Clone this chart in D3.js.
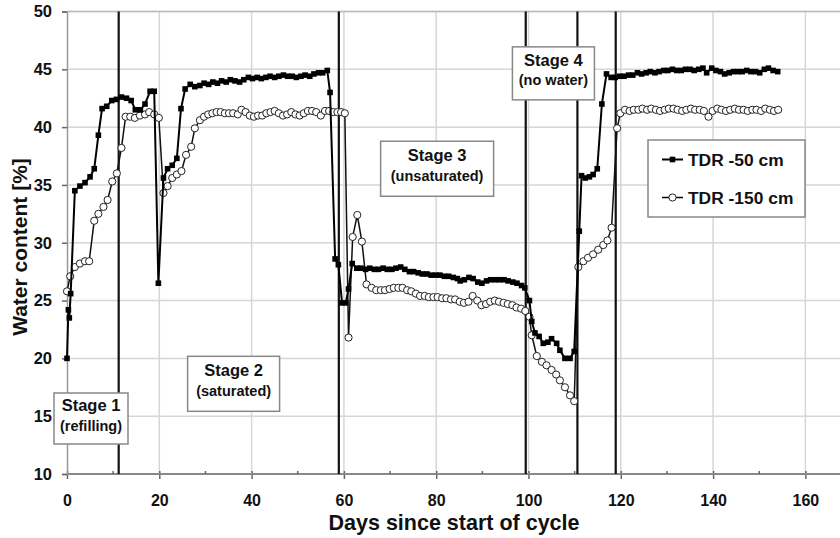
<!DOCTYPE html>
<html lang="en">
<head>
<meta charset="utf-8">
<title>Water content cycle</title>
<script src="https://cdn.jsdelivr.net/npm/d3@7"></script>
<style>
  body { margin: 0; background: #fff; }
  text { font-family: "Liberation Sans", Arial, sans-serif; font-weight: bold; fill: #111; }
</style>
</head>
<body>
<script>
// TDR -50 cm (filled squares)
var days50 = [0.0,0.3,0.5,0.8,1.7,2.8,3.9,5.0,5.9,6.8,7.6,8.6,9.7,10.7,11.8,12.9,13.9,14.8,15.9,16.9,18.0,18.9,19.8,20.9,21.8,22.8,23.8,24.7,25.6,26.7,27.7,28.8,29.7,
  30.7,31.6,32.6,33.5,34.5,35.4,36.4,37.4,38.3,39.3,40.2,41.2,42.1,43.1,44.0,45.0,45.9,46.9,47.8,48.8,49.7,50.7,51.6,52.6,53.5,54.5,55.4,56.4,57.0,58.1,58.8,59.6,60.4,61.0,61.8,62.8,
  63.7,64.7,65.6,66.6,67.5,68.5,69.4,70.4,71.3,72.3,73.2,74.2,75.1,76.1,77.0,78.0,78.9,79.9,80.8,81.8,82.7,83.7,84.6,85.2,86.1,87.1,88.0,89.0,89.9,90.9,91.8,92.8,93.7,94.7,95.6,96.6,97.5,98.5,99.2,
  100.2,100.7,101.4,102.3,103.2,104.2,105.0,106.1,106.8,107.9,109.0,109.9,111.0,111.5,112.3,113.2,114.0,114.9,115.9,116.9,117.9,118.8,119.8,120.7,121.7,122.6,123.6,124.5,125.5,126.4,127.4,128.3,129.3,130.2,
  131.2,132.1,133.1,134.0,135.0,135.9,136.9,137.8,138.6,139.7,140.6,141.6,142.5,143.5,144.4,145.4,146.3,147.3,148.2,149.2,150.1,151.1,152.0,153.0,154.0];
var water50 = [20.0,24.2,23.5,25.6,34.5,34.9,35.2,35.7,36.4,39.3,41.6,41.8,42.3,42.4,42.6,42.5,42.3,41.5,41.5,42.0,43.1,43.1,26.5,35.6,36.4,36.7,37.3,41.6,43.3,43.7,43.5,43.6,43.8,
  43.7,43.9,43.8,44.0,43.9,44.1,44.0,43.9,44.1,44.3,44.2,44.3,44.2,44.3,44.4,44.3,44.4,44.5,44.4,44.4,44.3,44.4,44.5,44.4,44.6,44.7,44.7,44.9,43.0,28.6,28.1,24.8,24.8,26.0,28.2,27.8,
  27.8,27.7,27.8,27.7,27.7,27.8,27.7,27.7,27.8,27.9,27.7,27.5,27.5,27.4,27.3,27.3,27.2,27.2,27.2,27.1,27.1,27.0,26.9,26.7,26.8,27.0,26.9,26.6,26.5,26.7,26.8,26.8,26.8,26.8,26.7,26.6,26.5,26.3,26.1,
  25.0,23.2,22.2,21.9,21.3,21.4,21.7,21.3,20.7,20.0,20.0,20.6,31.0,35.8,35.6,35.7,35.9,36.4,42.0,44.6,44.3,44.3,44.4,44.4,44.5,44.5,44.7,44.6,44.7,44.8,44.7,44.8,44.9,44.9,
  45.0,44.9,44.9,45.0,45.0,44.9,45.0,45.1,44.7,45.1,44.9,44.8,44.6,44.7,44.8,44.8,44.8,44.9,44.8,44.8,44.7,45.0,45.1,44.9,44.8];

// TDR -150 cm (open circles)
var days150 = [0.0,0.7,1.7,2.8,3.9,4.8,5.9,6.8,7.9,8.8,9.8,10.8,11.8,12.7,13.7,14.7,15.8,16.9,17.8,18.9,19.9,20.9,21.8,22.8,23.8,24.8,25.8,26.9,27.7,28.8,29.7,
  30.6,31.5,32.4,33.3,34.2,35.1,36.0,37.0,37.8,38.7,39.6,40.5,41.4,42.3,43.2,44.1,45.0,45.9,46.8,47.7,48.6,49.5,50.4,51.3,52.2,53.1,54.0,55.0,55.9,56.8,57.7,58.6,59.4,60.2,
  61.0,61.9,62.9,63.9,64.9,66.0,67.0,68.0,68.9,69.9,70.8,71.8,72.7,73.7,74.6,75.6,76.5,77.5,78.4,79.4,80.3,81.3,82.2,83.2,84.1,85.1,86.0,87.0,87.9,88.9,89.8,90.8,91.7,92.7,93.6,94.6,95.5,96.5,97.4,98.4,99.3,
  100.2,100.7,101.8,102.9,103.9,105.0,106.0,106.8,107.9,109.0,109.9,110.8,111.9,112.9,114.0,115.1,116.2,117.1,118.0,119.2,119.9,120.9,121.9,122.8,123.8,124.7,125.7,126.6,127.6,128.5,129.5,130.4,
  131.4,132.3,133.3,134.2,135.2,136.1,137.1,138.0,139.0,139.9,140.9,141.8,142.8,143.7,144.7,145.6,146.6,147.5,148.5,149.4,150.4,151.3,152.3,153.2,154.1];
var water150 = [25.8,27.1,27.9,28.2,28.4,28.4,31.9,32.5,33.1,33.7,35.3,36.0,38.2,40.9,40.9,40.8,41.0,41.1,41.3,41.1,40.8,34.3,34.9,35.6,35.9,36.2,37.6,38.3,39.9,40.6,40.9,
  41.1,41.2,41.3,41.3,41.2,41.2,41.2,41.1,41.5,41.3,41.0,40.9,41.0,41.0,41.2,41.3,41.4,41.2,41.0,41.1,41.3,41.1,41.0,41.2,41.4,41.4,41.3,41.0,41.4,41.4,41.3,41.3,41.3,41.2,
  21.8,30.5,32.4,30.1,26.4,26.1,25.9,25.9,25.9,26.0,26.1,26.1,26.1,25.9,25.8,25.6,25.4,25.4,25.3,25.3,25.3,25.2,25.2,25.1,25.1,24.9,24.8,24.9,25.4,25.0,24.6,24.7,24.9,25.0,24.9,24.8,24.7,24.6,24.4,24.3,24.1,
  23.6,22.0,20.2,19.7,19.4,19.0,18.6,18.1,17.5,16.8,16.3,27.9,28.4,28.7,29.0,29.4,29.8,30.2,31.3,39.9,41.2,41.5,41.4,41.5,41.5,41.6,41.5,41.6,41.5,41.4,41.5,41.6,
  41.6,41.5,41.4,41.5,41.6,41.5,41.5,41.4,40.9,41.4,41.6,41.5,41.4,41.5,41.6,41.5,41.5,41.4,41.5,41.5,41.4,41.6,41.5,41.4,41.5];

// stage boundaries (days)
var stageDays = [11.2, 58.9, 99.4, 110.6, 118.9];
var stageTitles = ["Stage 1", "Stage 2", "Stage 3", "Stage 4"];
var stageNotes = ["(refilling)", "(saturated)", "(unsaturated)", "(no water)"];
// label anchors in data units (day, water content)
var stageAnchorDays = [5.2, 36.1, 80.2, 105.4];
var stageAnchorValues = [14.8, 17.8, 36.4, 44.65];

var xTicks = [0, 20, 40, 60, 80, 100, 120, 140, 160];
var xMinorTicks = [10, 30, 50, 70, 90, 110, 130, 150];
var yTicks = [10, 15, 20, 25, 30, 35, 40, 45, 50];
var seriesNames = ["TDR -50 cm", "TDR -150 cm"];

var width = 840, height = 538;
var x = d3.scaleLinear().domain([0, 160]).range([67, 805.4]);
var y = d3.scaleLinear().domain([10, 50]).range([474, 11.5]);

var svg = d3.select("body").append("svg")
  .attr("width", width).attr("height", height);

// grid
svg.append("g").selectAll("line").data(yTicks.slice(1)).enter().append("line")
  .attr("x1", x(0)).attr("x2", width)
  .attr("y1", function(d) { return y(d); }).attr("y2", function(d) { return y(d); })
  .attr("stroke", "#d6d6d6").attr("stroke-width", 1.5);
svg.append("g").selectAll("line").data(xTicks.slice(1)).enter().append("line")
  .attr("x1", function(d) { return x(d); }).attr("x2", function(d) { return x(d); })
  .attr("y1", y(50)).attr("y2", y(10))
  .attr("stroke", "#d6d6d6").attr("stroke-width", 1.5);

// x axis
var xAxis = svg.append("g").attr("transform", "translate(0," + y(10) + ")")
  .call(d3.axisBottom(x).tickValues(xTicks).tickSize(5).tickPadding(16).tickFormat(d3.format("d")));
xAxis.select(".domain").remove();
xAxis.selectAll(".tick line").attr("y1", -3).attr("stroke", "#666").attr("stroke-width", 1.5);
xAxis.selectAll("text").attr("font-size", 16).attr("fill", "#111");
xAxis.append("line").attr("x1", x(0)).attr("x2", width).attr("stroke", "#888").attr("stroke-width", 2);
xAxis.selectAll(".minor").data(xMinorTicks).enter().append("line").attr("class", "minor")
  .attr("x1", function(d) { return x(d); }).attr("x2", function(d) { return x(d); })
  .attr("y1", -3).attr("y2", 0).attr("stroke", "#666").attr("stroke-width", 1.5);

// y axis
var yAxis = svg.append("g").attr("transform", "translate(" + x(0) + ",0)")
  .call(d3.axisLeft(y).tickValues(yTicks).tickSize(5).tickPadding(10));
yAxis.select(".domain").attr("stroke", "#999").attr("stroke-width", 1.5);
yAxis.selectAll(".tick line").attr("stroke", "#666").attr("stroke-width", 1.5);
yAxis.selectAll("text").attr("font-size", 16.5).attr("fill", "#111");

// top border
svg.append("line").attr("x1", x(0)).attr("x2", width).attr("y1", y(50)).attr("y2", y(50))
  .attr("stroke", "#bbb").attr("stroke-width", 1.5);

// stage boundaries
svg.append("g").selectAll("line").data(stageDays).enter().append("line")
  .attr("x1", function(d) { return x(d); }).attr("x2", function(d) { return x(d); })
  .attr("y1", y(50)).attr("y2", y(10))
  .attr("stroke", "#111").attr("stroke-width", 2.2);

// series
var line = d3.line().x(function(d) { return x(d[0]); }).y(function(d) { return y(d[1]); });
var pts50 = d3.zip(days50, water50);
var pts150 = d3.zip(days150, water150);

svg.append("path").datum(pts150).attr("d", line)
  .attr("fill", "none").attr("stroke", "#111").attr("stroke-width", 1.5);
svg.append("g").selectAll("circle").data(pts150).enter().append("circle")
  .attr("cx", function(d) { return x(d[0]); }).attr("cy", function(d) { return y(d[1]); })
  .attr("r", 3.6).attr("fill", "#fff").attr("stroke", "#222").attr("stroke-width", 1);

svg.append("path").datum(pts50).attr("d", line)
  .attr("fill", "none").attr("stroke", "#000").attr("stroke-width", 2);
svg.append("g").selectAll("rect").data(pts50).enter().append("rect")
  .attr("x", function(d) { return x(d[0]) - 2.8; }).attr("y", function(d) { return y(d[1]) - 2.8; })
  .attr("width", 5.6).attr("height", 5.6).attr("fill", "#000");

// stage labels
var boxW = [74, 92, 113, 82], boxH = [51, 55, 55, 53];
stageTitles.forEach(function(t, i) {
  var cx = x(stageAnchorDays[i]), cy = y(stageAnchorValues[i]);
  var g = svg.append("g").attr("transform", "translate(" + cx + "," + cy + ")");
  g.append("rect").attr("x", -boxW[i] / 2).attr("y", -boxH[i] / 2)
    .attr("width", boxW[i]).attr("height", boxH[i])
    .attr("fill", "#fff").attr("stroke", "#888").attr("stroke-width", 1.5);
  g.append("text").attr("text-anchor", "middle").attr("y", -7.5).attr("font-size", 16.5).text(t);
  g.append("text").attr("text-anchor", "middle").attr("y", 12).attr("font-size", 14.5).text(stageNotes[i]);
});

// legend
var lg = svg.append("g").attr("transform", "translate(648,140)");
lg.append("rect").attr("width", 157).attr("height", 77)
  .attr("fill", "#fff").attr("stroke", "#888").attr("stroke-width", 1.5);
seriesNames.forEach(function(name, i) {
  var ly = 19.5 + i * 38;
  lg.append("line").attr("x1", 14).attr("x2", 35).attr("y1", ly).attr("y2", ly)
    .attr("stroke", "#000").attr("stroke-width", i == 0 ? 2 : 1.5);
  if (i == 0) {
    lg.append("rect").attr("x", 24.5 - 2.8).attr("y", ly - 2.8).attr("width", 5.6).attr("height", 5.6).attr("fill", "#000");
  } else {
    lg.append("circle").attr("cx", 24.5).attr("cy", ly).attr("r", 3.6)
      .attr("fill", "#fff").attr("stroke", "#222");
  }
  lg.append("text").attr("x", 40).attr("y", ly + 6.3).attr("font-size", 17.4).text(name);
});

// axis titles
svg.append("text").attr("x", 454).attr("y", 530).attr("text-anchor", "middle")
  .attr("font-size", 21.5).text("Days since start of cycle");
svg.append("text").attr("transform", "translate(27,247) rotate(-90)").attr("text-anchor", "middle")
  .attr("font-size", 21).text("Water content [%]");
</script>
</body>
</html>
